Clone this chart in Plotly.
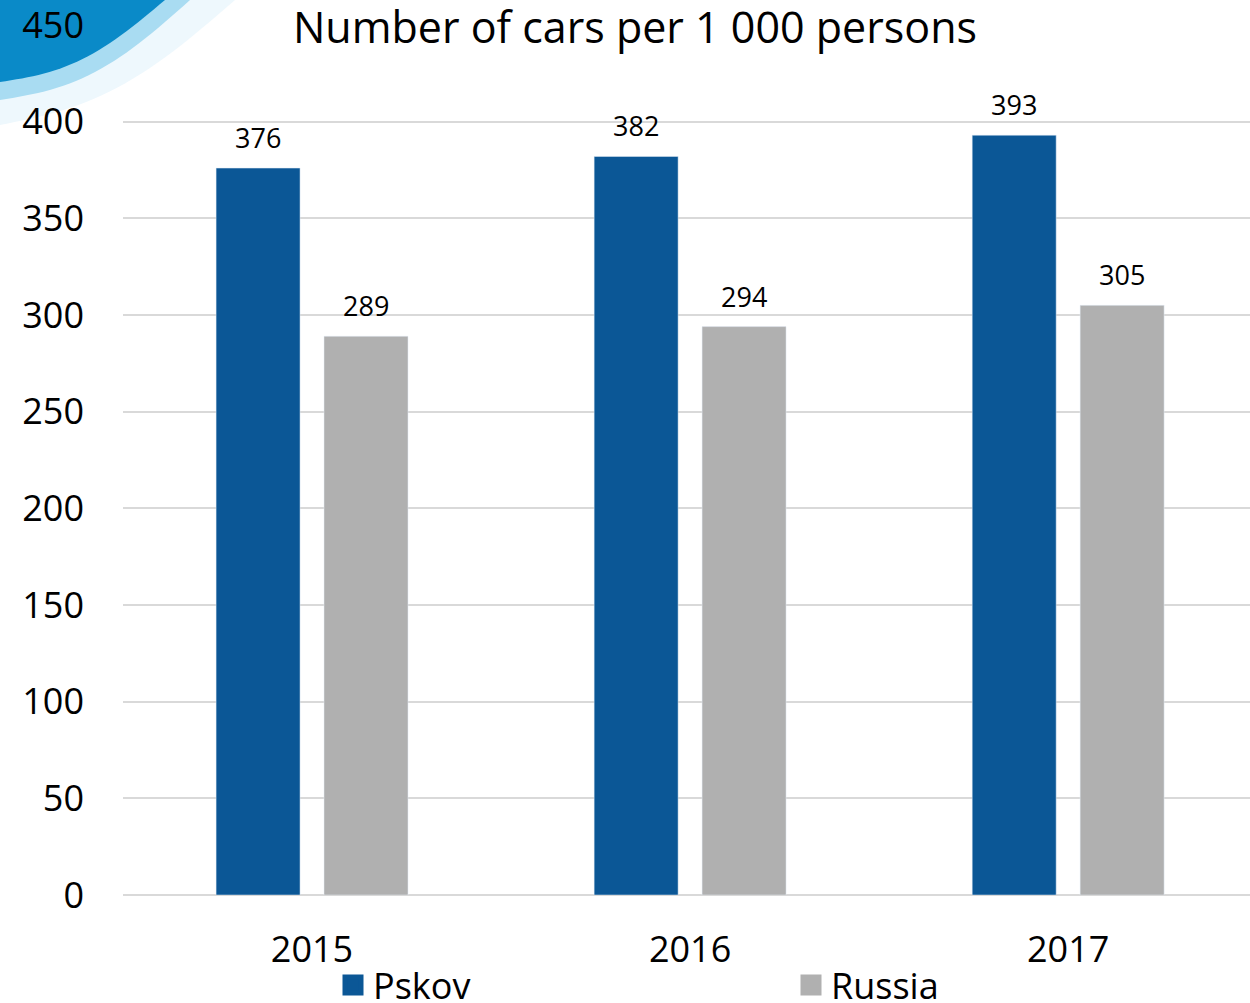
import math
import plotly.graph_objects as go

years = ["2015", "2016", "2017"]
pskov = [376, 382, 393]
russia = [289, 294, 305]
y_ticks = [0, 50, 100, 150, 200, 250, 300, 350, 400, 450]

W, H = 1250, 1003
L, R, T, B = 123, 1250, 25, 895
FONT = "'Open Sans', sans-serif"
BLUE = "#0B5796"
GREY = "#B0B0B0"

def px(x, y):
    return (x - L) / (R - L), (B - y) / (B - T)

def path(points):
    pts = [px(x, y) for x, y in points]
    s = "M %f,%f " % pts[0]
    for p in pts[1:]:
        s += "L %f,%f " % p
    return s + "Z"

fig = go.Figure()
fig.add_trace(go.Bar(x=years, y=pskov, name="Pskov", marker_color=BLUE, showlegend=False))
fig.add_trace(go.Bar(x=years, y=russia, name="Russia", marker_color=GREY, showlegend=False))
# legend entries with large square swatches
fig.add_trace(go.Scatter(x=[None], y=[None], mode="markers", name="Pskov",
                         marker=dict(symbol="square", size=16, color=BLUE,
                                     line=dict(color=BLUE, width=10))))
fig.add_trace(go.Scatter(x=[None], y=[None], mode="markers", name="Russia",
                         marker=dict(symbol="square", size=16, color=GREY,
                                     line=dict(color=GREY, width=10))))

annotations = []
for series, shift in ((pskov, -54), (russia, 54)):
    for i, v in enumerate(series):
        annotations.append(dict(x=i, y=v, xref="x", yref="y", text=str(v),
                                showarrow=False, xshift=shift, yshift=10,
                                yanchor="bottom", font=dict(size=27, color="#000000")))

# decorative swoosh (top-left)
def arc(x0, y0, x1, y1, bulge, n=30):
    pts = []
    for i in range(n + 1):
        t = i / n
        x = x0 + (x1 - x0) * t
        y = y0 + (y1 - y0) * t + bulge * math.sin(math.pi * t)
        pts.append((x, y))
    return pts

light = [(0, 0), (235, 0)] + arc(235, 0, 0, 125, 25)[1:]
mid = [(0, 0), (190, 0)] + arc(190, 0, 0, 100, 22)[1:]
dark = [(0, 0), (165, 0)] + arc(165, 0, 0, 82, 18)[1:]
shapes = [
    dict(type="path", xref="paper", yref="paper", path=path(light), fillcolor="#EEF8FD", line_width=0, layer="below"),
    dict(type="path", xref="paper", yref="paper", path=path(mid), fillcolor="#A9DCF2", line_width=0, layer="below"),
    dict(type="path", xref="paper", yref="paper", path=path(dark), fillcolor="#0A8AC8", line_width=0, layer="below"),
]

fig.update_layout(
    width=W, height=H,
    margin=dict(l=L, r=W - R, t=T, b=H - B, autoexpand=False),
    paper_bgcolor="white", plot_bgcolor="rgba(0,0,0,0)",
    font=dict(family=FONT, color="#000000"),
    title=dict(text="Number of cars per 1 000 persons", x=0.508, xanchor="center",
               y=1 - 28 / H, yanchor="middle", font=dict(size=43, color="#000000")),
    barmode="group", bargap=0.429, bargroupgap=0.222,
    showlegend=True,
    legend=dict(orientation="h", x=px(333, 0)[0], xanchor="left", y=-0.069, yanchor="top",
                font=dict(size=36), entrywidth=413, entrywidthmode="pixels",
                itemsizing="trace", bgcolor="rgba(0,0,0,0)", tracegroupgap=0),
    xaxis=dict(type="category", range=[-0.5, 2.481], showgrid=False, showline=False,
               tickfont=dict(size=36), ticks="", ticklabelstandoff=30),
    yaxis=dict(range=[0, 450], tickvals=y_ticks, showgrid=True, gridcolor="#D9D9D9",
               gridwidth=1.5, zeroline=True, zerolinecolor="#D9D9D9", zerolinewidth=1.5,
               tickfont=dict(size=36), ticks="", ticklabelstandoff=38, showline=False,
               ticklabeloverflow="allow"),
    shapes=shapes,
    annotations=annotations,
)
fig.write_html("out.html", post_script="document.body.style.margin='0';",
               config={"displayModeBar": False})
